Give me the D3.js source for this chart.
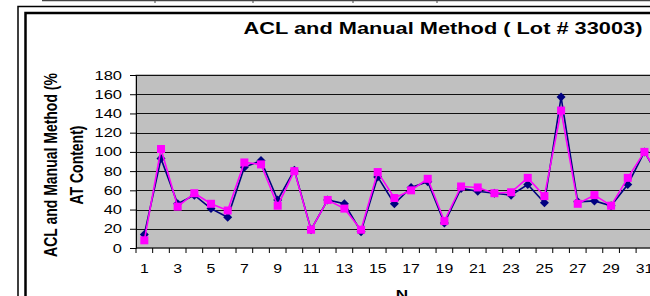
<!DOCTYPE html>
<html>
<head>
<meta charset="utf-8">
<script src="https://cdn.jsdelivr.net/npm/d3@7"></script>
<style>
  body { margin: 0; background: #fff; }
  svg { display: block; font-family: Arial, "Liberation Sans", sans-serif; }
</style>
</head>
<body>
<div id="chart"></div>
<script>
// chart data
var runs = d3.range(1, 33);
var aclValues    = [14, 93, 46, 55, 41, 32, 84, 91, 50, 81, 19, 50, 46, 17, 74, 46, 63, 69, 26, 62, 59, 57, 55, 66, 47, 157, 48, 49, 44, 66, 100, 70];
var manualValues = [8, 103, 43, 57, 46, 39, 89, 87, 44, 80, 19, 50, 41, 19, 79, 52, 60, 72, 28, 64, 63, 57, 58, 73, 54, 143, 46, 55, 44, 73, 100, 72];
var yTicks = [0, 20, 40, 60, 80, 100, 120, 140, 160, 180];
var xTickLabels = runs.filter(function(d) { return d % 2 == 1; });

var titleText = "ACL and Manual Method ( Lot # 33003)";
var yTitle = ["ACL and Manual Method (%", "AT Content)"];
var xTitle = "N";

//size
var w = 650;
var h = 296;

var plotLeft = 136;
var plotTop = 75;
var plotBottom = 248;
var catW = 16.67;
var plotRight = plotLeft + runs.length * catW;

//the original text is drawn wide, so stretch it sideways
var stretch = 1.32;

var svg = d3.select("#chart")
			.append("svg")
			.attr("width", w)
			.attr("height", h);

//table line at very top
svg.append("line")
   .attr("x1", 42).attr("x2", w).attr("y1", 0.5).attr("y2", 0.5)
   .attr("stroke", "#444").attr("stroke-width", 1.5);
[155, 253, 353, 437].forEach(function(x) {
	svg.append("line")
	   .attr("x1", x).attr("x2", x).attr("y1", 0).attr("y2", 3)
	   .attr("stroke", "#444");
});

//chart frame (double border)
svg.append("rect")
   .attr("x", 18).attr("y", 6.5).attr("width", w + 20).attr("height", h + 20)
   .attr("fill", "none").attr("stroke", "#000").attr("stroke-width", 1.5);
svg.append("rect")
   .attr("x", 25.5).attr("y", 13).attr("width", w + 20).attr("height", h + 20)
   .attr("fill", "none").attr("stroke", "#000").attr("stroke-width", 2.5);

//scales
var x = d3.scaleBand()
		  .domain(runs)
		  .range([plotLeft, plotRight]);

var y = d3.scaleLinear()
		  .domain([0, 180])
		  .range([plotBottom, plotTop]);

//plot background
svg.append("rect")
   .attr("x", plotLeft).attr("y", plotTop)
   .attr("width", plotRight - plotLeft).attr("height", plotBottom - plotTop)
   .attr("fill", "#c0c0c0")
   .attr("stroke", "#808080");

//gridlines
svg.append("g")
   .selectAll("line")
   .data(yTicks.slice(1))
   .enter()
   .append("line")
   .attr("x1", plotLeft).attr("x2", plotRight)
   .attr("y1", function(d) { return Math.round(y(d)) + 0.5; })
   .attr("y2", function(d) { return Math.round(y(d)) + 0.5; })
   .attr("stroke", "#111")
   .attr("stroke-width", 1.2);

//y axis
var yAxis = d3.axisLeft(y)
			  .tickValues(yTicks)
			  .tickSize(6);
var gy = svg.append("g")
			.attr("transform", "translate(" + plotLeft + ",0)")
			.call(yAxis);
gy.select(".domain").attr("stroke", "#000");
gy.selectAll(".tick line").attr("stroke", "#000");
gy.selectAll("text")
  .attr("x", 0)
  .attr("transform", "translate(-14,0) scale(" + stretch + ",1)")
  .attr("font-size", 12.5).attr("fill", "#000")
  .attr("font-family", "Arial, 'Liberation Sans', sans-serif");

//x axis: ticks between categories, labels on odd runs
var bounds = d3.range(0, runs.length + 1);
var gx = svg.append("g");
gx.append("line")
  .attr("x1", plotLeft).attr("x2", plotRight)
  .attr("y1", plotBottom).attr("y2", plotBottom)
  .attr("stroke", "#000");
gx.selectAll("line.tick")
  .data(bounds)
  .enter()
  .append("line")
  .attr("class", "tick")
  .attr("x1", function(d) { return plotLeft + d * x.bandwidth(); })
  .attr("x2", function(d) { return plotLeft + d * x.bandwidth(); })
  .attr("y1", plotBottom).attr("y2", plotBottom + 5)
  .attr("stroke", "#000");
gx.selectAll("text")
  .data(xTickLabels)
  .enter()
  .append("text")
  .attr("transform", function(d) {
	  return "translate(" + (x(d) + x.bandwidth() / 2) + ",273) scale(" + stretch + ",1)";
  })
  .attr("text-anchor", "middle")
  .attr("font-size", 12)
  .text(function(d) { return d; });

//titles
svg.append("text")
   .attr("transform", "translate(443,34) scale(" + stretch + ",1)")
   .attr("text-anchor", "middle")
   .attr("font-size", 16.5)
   .attr("font-weight", "bold")
   .text(titleText);

svg.append("text")
   .attr("transform", "translate(402,298.5) scale(" + stretch + ",1)")
   .attr("text-anchor", "middle")
   .attr("font-size", 13)
   .attr("font-weight", "bold")
   .text(xTitle);

svg.append("g")
   .attr("transform", "translate(57,165) scale(" + stretch + ",1) rotate(-90)")
   .selectAll("text")
   .data(yTitle)
   .enter()
   .append("text")
   .attr("x", 0)
   .attr("y", function(d, i) { return i * 19.5; })
   .attr("text-anchor", "middle")
   .attr("font-size", 14)
   .attr("font-weight", "bold")
   .text(function(d) { return d; });

//series
var cx = function(d, i) { return x(runs[i]) + x.bandwidth() / 2; };
var line = d3.line()
			 .x(cx)
			 .y(function(d) { return y(d); });

var plot = svg.append("g");

plot.append("path")
	.datum(aclValues)
	.attr("d", line)
	.attr("fill", "none")
	.attr("stroke", "#000080")
	.attr("stroke-width", 1.6);

plot.selectAll("path.diamond")
	.data(aclValues)
	.enter()
	.append("path")
	.attr("class", "diamond")
	.attr("d", "M0,-4.5L4.5,0L0,4.5L-4.5,0Z")
	.attr("transform", function(d, i) { return "translate(" + cx(d, i) + "," + y(d) + ")"; })
	.attr("fill", "#000080");

plot.append("path")
	.datum(manualValues)
	.attr("d", line)
	.attr("fill", "none")
	.attr("stroke", "#ff00ff")
	.attr("stroke-width", 1.6);

plot.selectAll("rect.square")
	.data(manualValues)
	.enter()
	.append("rect")
	.attr("class", "square")
	.attr("x", function(d, i) { return cx(d, i) - 4; })
	.attr("y", function(d) { return y(d) - 4; })
	.attr("width", 8).attr("height", 8)
	.attr("fill", "#ff00ff");
</script>
</body>
</html>
